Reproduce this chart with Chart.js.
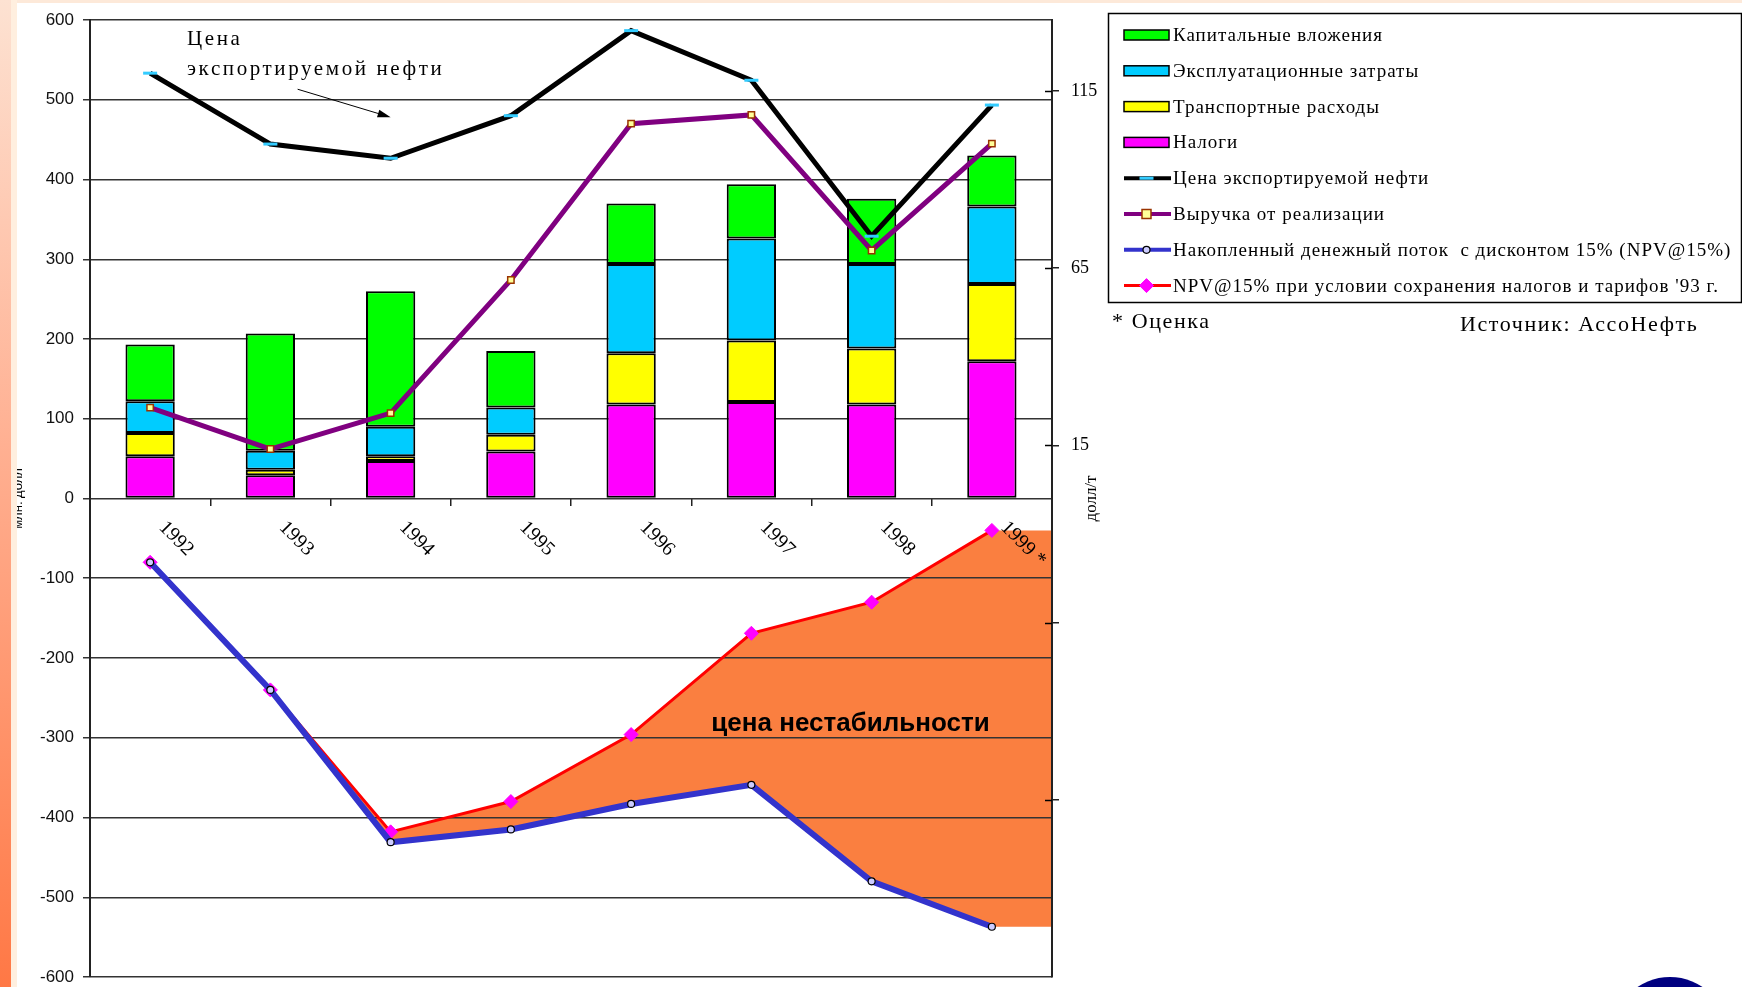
<!DOCTYPE html>
<html>
<head>
<meta charset="utf-8">
<script src="https://cdn.jsdelivr.net/npm/chart.js@4.4.0/dist/chart.umd.min.js"></script>
<style>
  html, body { margin: 0; padding: 0; background: #fff; }
  body { width: 1742px; height: 987px; position: relative; overflow: hidden; }
  #chart { position: absolute; left: 0; top: 0; }
  .strip { position: absolute; left: 0; top: 0; width: 11px; height: 987px; z-index: 2;
           background: linear-gradient(#fde2d2, #ffb092 45%, #ff7845); }
  .cream { position: absolute; left: 11px; top: 0; width: 6px; height: 987px; z-index: 2; background: #ffefdf; }
  .topband { position: absolute; left: 0; top: 0; width: 1742px; height: 3px; z-index: 2; background: #fde9d9; }
  .logo { position: absolute; left: 1612px; top: 977px; width: 116px; height: 116px; border-radius: 50%; background: #000080; }
</style>
</head>
<body>
<div class="topband"></div>
<div class="strip"></div>
<div class="cream"></div>
<div class="logo"></div>
<canvas id="chart" width="1742" height="987"></canvas>
<script>
// --- data ---
const years = ["1992", "1993", "1994", "1995", "1996", "1997", "1998", "1999 *"];
const taxes = [53, 29, 47, 59, 118, 121, 118, 172];        // Налоги
const transport = [29, 7, 6, 21, 64, 77, 70, 97];          // Транспортные расходы
const operating = [40, 24, 37, 34, 112, 128, 106, 97];     // Эксплуатационные затраты
const capital = [71, 147, 170, 71, 76, 68, 82, 64];        // Капитальные вложения
const oilPrice = [120, 100, 96, 108, 132, 118, 74, 111];   // долл/т, right axis
const revenue = [114, 62, 107, 274, 470, 481, 311, 445];
const npv = [-80, -240, -431, -415, -383, -359, -480, -537];
const npv93 = [-80, -240, -418, -380, -296, -169, -130, -40];
const priceTicks = [-85, -35, 15, 65, 115];

const ORANGE = "#fa7f40";
const SERIF = "'Liberation Serif', 'Times New Roman', serif";
const SANS = "'Liberation Sans', Arial, sans-serif";

const legendOrder = [
  "Капитальные вложения",
  "Эксплуатационные затраты",
  "Транспортные расходы",
  "Налоги",
  "Цена экспортируемой нефти",
  "Выручка от реализации",
  "Накопленный денежный поток  с дисконтом 15% (NPV@15%)",
  "NPV@15% при условии сохранения налогов и тарифов '93 г.",
];

function bar(label, data, color) {
  return {
    type: "bar", label, data, backgroundColor: color,
    borderColor: "#000", borderWidth: 2, borderSkipped: false,
    barPercentage: 0.41, categoryPercentage: 1, order: 2, stack: "costs",
  };
}

// orange band between the two NPV lines (under the grid), legend, notes
const decor = {
  id: "decor",
  beforeDraw(chart) {
    const { ctx, chartArea } = chart;
    const blue = chart.getDatasetMeta(0).data;
    const red = chart.getDatasetMeta(1).data;
    const n = red.length;
    ctx.save();
    ctx.fillStyle = ORANGE;
    ctx.beginPath();
    red.forEach((p, i) => (i ? ctx.lineTo(p.x, p.y) : ctx.moveTo(p.x, p.y)));
    ctx.lineTo(chartArea.right, red[n - 1].y);
    ctx.lineTo(chartArea.right, blue[n - 1].y);
    for (let i = n - 1; i >= 0; i--) ctx.lineTo(blue[i].x, blue[i].y);
    ctx.closePath();
    ctx.fill();
    ctx.restore();
  },
  afterDraw(chart) {
    const { ctx, chartArea, scales } = chart;
    const x = scales.x, y = scales.y, y1 = scales.y1;
    const zero = y.getPixelForValue(0);
    ctx.save();
    ctx.fillStyle = "#000";
    ctx.strokeStyle = "#000";

    // year labels, slanted downwards
    ctx.font = "20px " + SERIF;
    ctx.textBaseline = "top";
    ctx.textAlign = "left";
    years.forEach((yr, i) => {
      ctx.save();
      ctx.translate(x.getPixelForValue(i) + 19, zero + 19);
      ctx.rotate(Math.PI / 4);
      ctx.fillText(yr, 0, 0);
      ctx.restore();
    });

    // inner half of right-axis ticks
    ctx.lineWidth = 1.5;
    priceTicks.forEach(v => {
      const py = Math.round(y1.getPixelForValue(v)) + 0.5;
      ctx.beginPath();
      ctx.moveTo(chartArea.right - 7, py);
      ctx.lineTo(chartArea.right, py);
      ctx.stroke();
    });

    // axis titles
    ctx.textAlign = "center";
    ctx.textBaseline = "alphabetic";
    ctx.save();
    ctx.translate(22, zero);
    ctx.rotate(-Math.PI / 2);
    ctx.font = "13px " + SANS;
    ctx.fillText("млн. долл", 0, 0);
    ctx.restore();
    ctx.save();
    ctx.translate(chartArea.right + 40, zero);
    ctx.rotate(-Math.PI / 2);
    ctx.font = "17px " + SERIF;
    ctx.textBaseline = "middle";
    ctx.fillText("долл/т", 0, 0);
    ctx.restore();

    // note on the oil price line
    ctx.font = "21px " + SERIF;
    ctx.textAlign = "left";
    ctx.textBaseline = "middle";
    ctx.letterSpacing = "2.6px";
    ctx.fillText("Цена", chartArea.left + 97, 39);
    ctx.fillText("экспортируемой нефти", chartArea.left + 97, 69);
    ctx.letterSpacing = "0px";
    const ax = x.getPixelForValue(2), ay = y1.getPixelForValue(oilPrice[2]) - 41;
    const sx = ax - 93, sy = ay - 28;
    const ang = Math.atan2(ay - sy, ax - sx);
    ctx.lineWidth = 1;
    ctx.beginPath(); ctx.moveTo(sx, sy); ctx.lineTo(ax - 8 * Math.cos(ang), ay - 8 * Math.sin(ang)); ctx.stroke();
    ctx.beginPath();
    ctx.moveTo(ax, ay);
    ctx.lineTo(ax - 13 * Math.cos(ang) + 4 * Math.sin(ang), ay - 13 * Math.sin(ang) - 4 * Math.cos(ang));
    ctx.lineTo(ax - 13 * Math.cos(ang) - 4 * Math.sin(ang), ay - 13 * Math.sin(ang) + 4 * Math.cos(ang));
    ctx.closePath(); ctx.fill();

    // instability label inside the orange area
    ctx.font = "bold 26px " + SANS;
    ctx.textAlign = "center";
    ctx.fillText("цена нестабильности", (x.getPixelForValue(5) + x.getPixelForValue(6)) / 2 + 39, y.getPixelForValue(-283));

    // legend box
    const lx = 1108, ly = 13, lw = 633, lh = 289;
    ctx.lineWidth = 1.5;
    ctx.strokeRect(lx + 0.5, ly + 0.5, lw, lh);
    ctx.font = "19px " + SERIF;
    ctx.textAlign = "left";
    ctx.letterSpacing = "1px";
    legendOrder.forEach((label, i) => {
      const ds = chart.data.datasets.find(d => d.label === label);
      const cy = 35 + i * 35.8;
      const sx0 = 1124, sx1 = 1169, mx = (sx0 + sx1) / 2;
      if (ds.type === "bar") {
        ctx.fillStyle = ds.backgroundColor;
        ctx.fillRect(sx0, cy - 5, sx1 - sx0, 10);
        ctx.lineWidth = 1.5;
        ctx.strokeStyle = "#000";
        ctx.strokeRect(sx0, cy - 5, sx1 - sx0, 10);
      } else {
        ctx.strokeStyle = ds.borderColor;
        ctx.lineWidth = Math.min(ds.borderWidth, 4);
        ctx.beginPath(); ctx.moveTo(sx0, cy); ctx.lineTo(sx1 + 2, cy); ctx.stroke();
        ctx.lineWidth = ds.pointBorderWidth;
        ctx.strokeStyle = ds.pointBorderColor;
        ctx.fillStyle = ds.pointBackgroundColor;
        const r = ds.pointRadius;
        ctx.beginPath();
        if (ds.pointStyle === "line") { ctx.moveTo(mx - r, cy); ctx.lineTo(mx + r, cy); ctx.stroke(); }
        else if (ds.pointStyle === "rect") { ctx.rect(mx - r, cy - r, 2 * r, 2 * r); ctx.fill(); ctx.stroke(); }
        else if (ds.pointStyle === "rectRot") {
          ctx.moveTo(mx, cy - r); ctx.lineTo(mx + r, cy); ctx.lineTo(mx, cy + r); ctx.lineTo(mx - r, cy); ctx.closePath();
          ctx.fill(); ctx.stroke();
        } else { ctx.arc(mx, cy, r, 0, Math.PI * 2); ctx.fill(); ctx.stroke(); }
      }
      ctx.fillStyle = "#000";
      ctx.fillText(label, 1173, cy + 1);
    });

    ctx.font = "22px " + SERIF;
    ctx.letterSpacing = "1.6px";
    ctx.fillText("* Оценка", 1112, 322);
    ctx.fillText("Источник: АссоНефть", 1460, 325);
    ctx.letterSpacing = "0px";
    ctx.restore();
  },
};

new Chart(document.getElementById("chart"), {
  data: {
    labels: years,
    datasets: [
      {
        type: "line", label: "Накопленный денежный поток  с дисконтом 15% (NPV@15%)",
        data: npv, borderColor: "#3333cc", borderWidth: 6, stack: "npv", order: 0,
        pointStyle: "circle", pointRadius: 3.5, pointBackgroundColor: "#ccccff",
        pointBorderColor: "#000", pointBorderWidth: 1.2, fill: false,
      },
      {
        type: "line", label: "NPV@15% при условии сохранения налогов и тарифов '93 г.",
        data: npv93, borderColor: "#ff0000", borderWidth: 3, stack: "npv93", order: 0, fill: false,
        pointStyle: "rectRot", pointRadius: 7, pointBackgroundColor: "#ff00ff",
        pointBorderColor: "#ff00ff", pointBorderWidth: 1,
      },
      {
        type: "line", label: "Выручка от реализации",
        data: revenue, borderColor: "#800080", borderWidth: 5, stack: "rev", order: 0,
        pointStyle: "rect", pointRadius: 4.5, pointBackgroundColor: "#ffff99",
        pointBorderColor: "#993300", pointBorderWidth: 1.5, fill: false,
      },
      {
        type: "line", label: "Цена экспортируемой нефти", yAxisID: "y1",
        data: oilPrice, borderColor: "#000", borderWidth: 5, order: 0,
        pointStyle: "line", pointRadius: 7, pointBackgroundColor: "#00ccff",
        pointBorderColor: "#33ccff", pointBorderWidth: 3, fill: false,
      },
      bar("Налоги", taxes, "#ff00ff"),
      bar("Транспортные расходы", transport, "#ffff00"),
      bar("Эксплуатационные затраты", operating, "#00ccff"),
      bar("Капитальные вложения", capital, "#00ff00"),
    ],
  },
  options: {
    responsive: false,
    animation: false,
    layout: { padding: { left: 0, top: 20, right: 630, bottom: 7 } },
    plugins: {
      legend: { display: false },
      tooltip: { enabled: false },
    },
    scales: {
      x: {
        type: "category", stacked: true, offset: true, position: { y: 0 },
        grid: { offset: true, drawOnChartArea: false, tickLength: 7, color: "#222", lineWidth: 1.5 },
        border: { display: false },
        ticks: { display: false },
        afterFit(s) { s.height = 0; s.paddingLeft = 0; s.paddingRight = 0; },
      },
      y: {
        min: -600, max: 600, stacked: true,
        ticks: { stepSize: 100, padding: 9, color: "#111", font: { family: SANS, size: 17 } },
        grid: { color: "#333", lineWidth: 1.5, tickLength: 7 },
        border: { color: "#222", width: 2 },
        afterFit(s) { s.width = 90; s.paddingTop = 0; s.paddingBottom = 0; },
      },
      y1: {
        position: "right", min: -135, max: 135,
        afterBuildTicks(s) { s.ticks = priceTicks.map(v => ({ value: v })); },
        ticks: { padding: 12, color: "#000", font: { family: SERIF, size: 18 },
                 callback: v => (v > 0 ? v : "") },
        grid: { drawOnChartArea: false, tickLength: 7, color: "#222", lineWidth: 1.5 },
        border: { color: "#222", width: 2 },
        afterFit(s) { s.width = 60; s.paddingTop = 0; s.paddingBottom = 0; },
      },
    },
  },
  plugins: [decor],
});
</script>
</body>
</html>
